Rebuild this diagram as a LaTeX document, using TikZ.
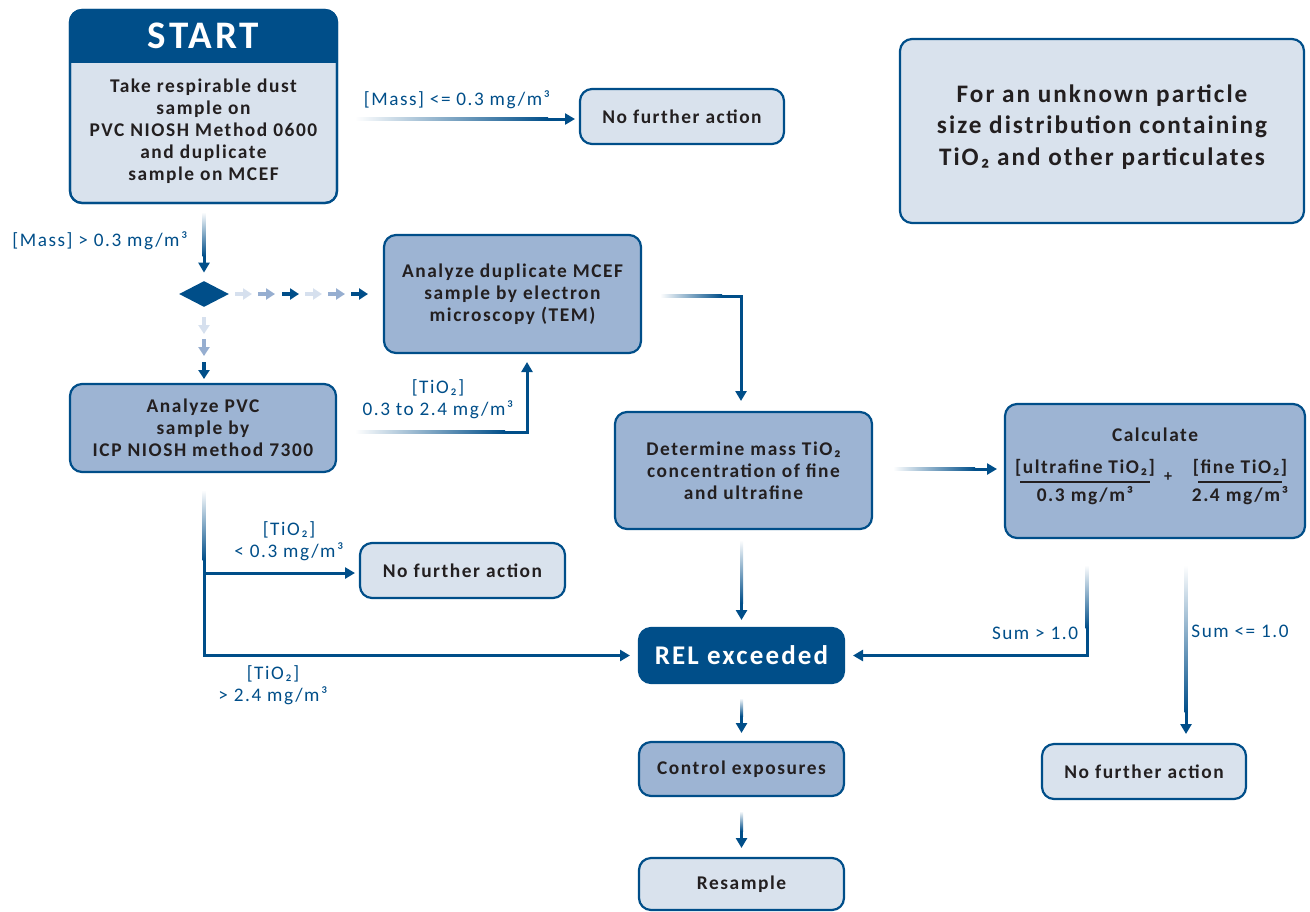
\documentclass[tikz,border=0pt]{standalone}
\usepackage{fontspec}
\setmainfont{Carlito}[LetterSpace=8]
\usetikzlibrary{arrows.meta,shapes.geometric,calc}

\definecolor{navy}{RGB}{0,78,137}
\definecolor{boxmid}{RGB}{157,180,211}
\definecolor{boxlight}{RGB}{217,226,237}
\definecolor{txtdark}{RGB}{35,31,32}
\definecolor{arrlight}{RGB}{214,224,238}
\definecolor{arrmid}{RGB}{150,174,208}

\tikzset{
  box/.style={draw=navy, line width=1.1pt, rounded corners=6pt, outer sep=0pt,
    inner sep=0pt, align=center, text=txtdark,
    font=\bfseries\fontsize{9.7}{11}\selectfont},
  lightbox/.style={box, fill=boxlight},
  midbox/.style={box, fill=boxmid},
  lbl/.style={text=navy, inner sep=0pt, align=center,
    font=\fontsize{9.6}{11}\selectfont},
  flow/.style={draw=navy, line width=1.5pt, -{Triangle[length=5pt,width=5.5pt]}},
  tick/.style={line width=2pt, -{Triangle[length=4.5pt,width=5.5pt]}}
}

% fading pieces of the connectors
\newcommand{\fadeR}[2]{\shade[left color=white, right color=navy]
  ($(#1)+(0,0.75pt)$) rectangle ($(#2)+(0,-0.75pt)$);}
\newcommand{\fadeD}[2]{\shade[top color=white, bottom color=navy]
  ($(#1)+(-0.75pt,0)$) rectangle ($(#2)+(0.75pt,0)$);}

\begin{document}
\begin{tikzpicture}[x=0.5pt, y=-0.5pt]
  \useasboundingbox (0,0) rectangle (1310,911);

  % start box
  \node[lightbox, minimum width=133.5pt, minimum height=96.5pt] (start) at (203.5,106.5) {};
  \begin{scope}
    \clip (60,0) rectangle (350,62);
    \fill[navy, rounded corners=6pt] (start.north west) rectangle (start.south east);
  \end{scope}
  \draw[navy, line width=1.1pt, rounded corners=6pt] (start.north west) rectangle (start.south east);
  \node[text=white, font=\bfseries\fontsize{19.5}{20}\selectfont] (starttitle) at (203.5,36) {START};
  \node[box, draw=none] (starttext) at (203.5,131)
    {Take respirable dust\\sample on\\PVC NIOSH Method 0600\\and duplicate\\sample on MCEF};

  \node[lightbox, minimum width=102pt, minimum height=27.5pt] (nfa1) at (682,116.5) {No further action};
  \node[lightbox, minimum width=202pt, minimum height=92pt] (info) at (1102,131) {};
  \node[box, draw=none, font=\bfseries\fontsize{12.6}{15.75}\selectfont] (infotext) at (1102,127)
    {For an unknown particle\\size distribution containing\\TiO₂ and other particulates};

  \node[diamond, fill=navy, minimum width=25pt, minimum height=13pt, inner sep=0pt] (dia) at (204,294) {};

  \node[midbox, minimum width=128.5pt, minimum height=59pt] (mcef) at (512.5,294)
    {Analyze duplicate MCEF\\sample by electron\\microscopy (TEM)};
  \node[midbox, minimum width=133pt, minimum height=44pt] (pvc) at (203,428)
    {Analyze PVC\\sample by\\ICP NIOSH method 7300};
  \node[midbox, minimum width=128.5pt, minimum height=58.5pt] (det) at (743.5,470.5)
    {Determine mass TiO₂\\concentration of fine\\and ultrafine};
  \node[midbox, minimum width=150pt, minimum height=67pt] (calc) at (1155,471) {};
  \node[box, draw=none] (calctitle) at (1155,435) {Calculate};
  \node[box, draw=none] (num1) at (1085,468) {[ultrafine TiO₂]};
  \node[box, draw=none] (den1) at (1085,496) {0.3 mg/m³};
  \node[box, draw=none] (num2) at (1240,468) {[fine TiO₂]};
  \node[box, draw=none] (den2) at (1240,496) {2.4 mg/m³};
  \node[box, draw=none, font=\bfseries\fontsize{8}{9}\selectfont] (plus) at (1168,477) {+};
  \draw[txtdark, line width=0.9pt] (1020,482) -- (1150,482);
  \draw[txtdark, line width=0.9pt] (1198,482) -- (1282,482);

  \node[lightbox, minimum width=102.5pt, minimum height=27.5pt] (nfa2) at (462.5,570.5) {No further action};
  \node[box, fill=navy, text=white, minimum width=102.5pt, minimum height=27.5pt,
    font=\bfseries\fontsize{13.5}{15}\selectfont] (rel) at (741.5,655.5) {REL exceeded};
  \node[midbox, minimum width=102.5pt, minimum height=27pt] (ctrl) at (741.5,769) {Control exposures};
  \node[lightbox, minimum width=102.5pt, minimum height=26pt] (resample) at (741.5,884) {Resample};
  \node[lightbox, minimum width=102pt, minimum height=27.5pt] (nfa3) at (1144,771.5) {No further action};

  % labels
  \node[lbl] (lmass1) at (457,100) {[Mass] <= 0.3 mg/m³};
  \node[lbl] (lmass2) at (100,241) {[Mass] > 0.3 mg/m³};
  \node[lbl] (lmid) at (438,399) {[TiO₂]\\0.3 to 2.4 mg/m³};
  \node[lbl] (llow) at (289,541) {[TiO₂]\\< 0.3 mg/m³};
  \node[lbl] (lhigh) at (273,685) {[TiO₂]\\> 2.4 mg/m³};
  \node[lbl] (lsum1) at (1035,633) {Sum > 1.0};
  \node[lbl] (lsum2) at (1240,631) {Sum <= 1.0};

  % start -> no further action
  \coordinate (a1) at (355,119);
  \coordinate (a2) at (548,119);
  \fadeR{a1}{a2}
  \draw[flow, shorten >=2.5pt] (a2) -- (nfa1.west |- a2);

  % start -> diamond
  \coordinate (b1) at (204,212);
  \coordinate (b2) at (204,256);
  \fadeD{b1}{b2}
  \draw[flow, shorten >=4pt] (b2) -- (dia.north);

  % diamond -> both analyses
  \foreach \x/\c in {235/arrlight, 258/arrmid, 282/navy, 305/arrlight, 328/arrmid, 351/navy}
    \draw[tick, \c] (\x,294) -- ++(17,0);
  \foreach \y/\c in {317/arrlight, 339/arrmid, 362/navy}
    \draw[tick, \c] (204,\y) -- ++(0,17);

  % pvc -> mcef
  \coordinate (c1) at (355,432);
  \coordinate (c2) at (505,432);
  \coordinate (c3) at (527,432);
  \fadeR{c1}{c2}
  \draw[flow, shorten >=4.5pt] (c2) -- (c3) -- (c3 |- mcef.south);

  % mcef -> determine
  \coordinate (d1) at (660,296);
  \coordinate (d2) at (722,296);
  \coordinate (d3) at (741,296);
  \fadeR{d1}{d2}
  \draw[flow, shorten >=5.5pt] (d2) -- (d3) -- (d3 |- det.north);

  % determine -> calculate
  \coordinate (e1) at (893,469);
  \coordinate (e2) at (975,469);
  \fadeR{e1}{e2}
  \draw[flow, shorten >=4pt] (e2) -- (calc.west |- e2);

  % pvc -> no further action / rel
  \coordinate (f1) at (204,490);
  \coordinate (f2) at (204,560);
  \coordinate (f3) at (204,573);
  \coordinate (f4) at (204,655.5);
  \fadeD{f1}{f2}
  \draw[flow, shorten >=4.5pt] (f2) -- (f4) -- (rel.west);
  \draw[flow, shorten >=2.5pt] (f3) -- (nfa2.west |- f3);

  % determine -> rel
  \coordinate (g1) at (741.5,540);
  \coordinate (g2) at (741.5,603);
  \fadeD{g1}{g2}
  \draw[flow, shorten >=4pt] (g2) -- (rel.north);

  % calculate -> rel
  \coordinate (h1) at (1087,565);
  \coordinate (h2) at (1087,628);
  \coordinate (h3) at (1087,655.5);
  \fadeD{h1}{h2}
  \draw[flow, shorten >=4.5pt] (h2) -- (h3) -- (rel.east);

  % calculate -> no further action
  \coordinate (k1) at (1186,565);
  \coordinate (k2) at (1186,712);
  \fadeD{k1}{k2}
  \draw[flow, shorten >=5pt] (k2) -- (k2 |- nfa3.north);

  % rel -> control -> resample
  \coordinate (m1) at (741.5,698);
  \coordinate (m2) at (741.5,716);
  \fadeD{m1}{m2}
  \draw[flow, shorten >=4.5pt] (m2) -- (ctrl.north);
  \coordinate (n1) at (741.5,811);
  \coordinate (n2) at (741.5,831);
  \fadeD{n1}{n2}
  \draw[flow, shorten >=5pt] (n2) -- (resample.north);
\end{tikzpicture}
\end{document}
